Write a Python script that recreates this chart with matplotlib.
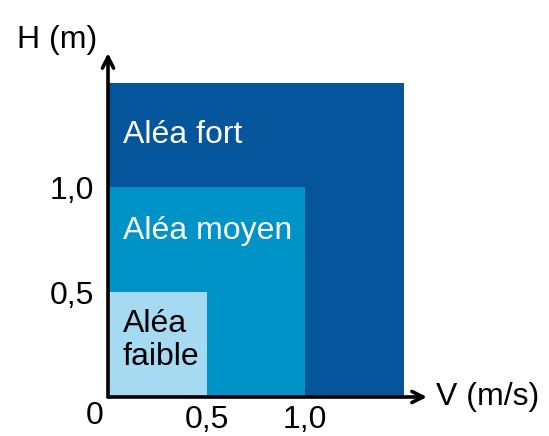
import numpy as np
import matplotlib.pyplot as plt

plt.rcParams["font.family"] = ["Liberation Sans", "DejaVu Sans"]

# zones (drawn largest first)
zone_labels = ["Aléa fort", "Aléa moyen", "Aléa\nfaible"]
zone_v = [1.5, 1.0, 0.5]      # max velocity (m/s)
zone_h = [1.5, 1.0, 0.5]      # max depth (m)
zone_colors = ["#04559B", "#0093C8", "#A6DAF2"]
label_x = [0.076, 0.076, 0.076]
label_y = [1.25, 0.79, 0.27]

ticks = [0.5, 1.0]
tick_labels = ["0,5", "1,0"]

FS = 23

fig = plt.figure(figsize=(5.49, 4.36), dpi=100)
ax = fig.add_axes([108/549, 39/436, 319/549, 344/436])
ax.set_xlim(0, 319/197)
ax.set_ylim(0, 344/209.5)

for v, h, c in zip(zone_v, zone_h, zone_colors):
    ax.bar(0, h, width=v, align="edge", color=c, edgecolor="none", zorder=1)

for lab, x, y in zip(zone_labels, label_x, label_y):
    ax.text(x, y, lab, color="white" if "faible" not in lab else "black",
            fontsize=FS, ha="left", va="center", linespacing=1.15)

for s in ax.spines.values():
    s.set_visible(False)

ax.set_xticks(ticks)
ax.set_xticklabels(tick_labels)
ax.set_yticks(ticks)
ax.set_yticklabels(tick_labels)
ax.tick_params(length=0, labelsize=FS, colors="black")
ax.tick_params(axis="x", pad=6)
ax.tick_params(axis="y", pad=10)

# axes arrows
ax.annotate("", xy=(1.0, 0), xytext=(0, 0), xycoords="axes fraction",
            arrowprops=dict(arrowstyle="->", lw=2.6, color="black",
                            mutation_scale=20, shrinkA=0, shrinkB=0), zorder=5)
ax.annotate("", xy=(0, 1.0), xytext=(0, 0), xycoords="axes fraction",
            arrowprops=dict(arrowstyle="->", lw=2.6, color="black",
                            mutation_scale=20, shrinkA=0, shrinkB=0), zorder=5)

fig.text(95/549, 1 - 416/436, "0", fontsize=FS, ha="center", va="center")
fig.text(57/549, 1 - 40/436, "H (m)", fontsize=FS, ha="center", va="center")
fig.text(436/549, 1 - 397/436, "V (m/s)", fontsize=FS, ha="left", va="center")

fig.savefig("out.png", dpi=100)
